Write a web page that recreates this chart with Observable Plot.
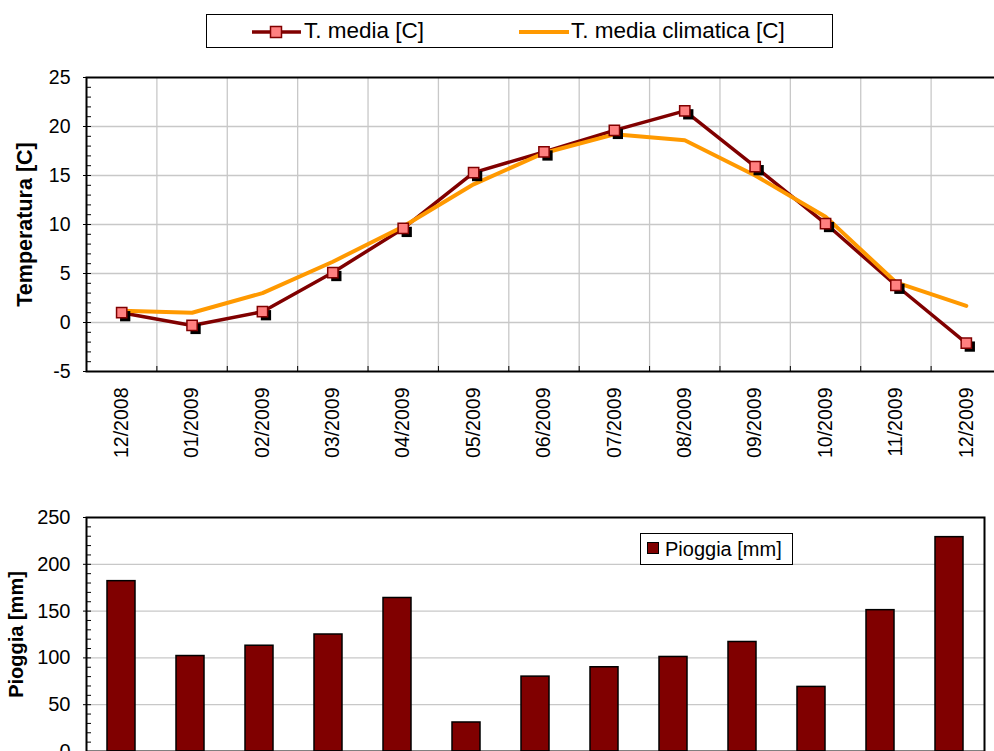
<!DOCTYPE html>
<html>
<head>
<meta charset="utf-8">
<script src="https://cdn.jsdelivr.net/npm/d3@7"></script>
<script src="https://cdn.jsdelivr.net/npm/@observablehq/plot@0.6"></script>
<style>
  html, body { margin: 0; padding: 0; background: #fff; }
  body { width: 994px; height: 751px; overflow: hidden; font-family: "Liberation Sans", Arial, sans-serif; }
  #root { position: relative; width: 994px; height: 751px; overflow: hidden; }
  #top, #bottom { position: absolute; left: 0; }
  #top { top: 0; width: 1010px; }
  #bottom { top: 460px; width: 994px; }
  #top svg, #bottom svg { max-width: none !important; }
  .legend { position: absolute; background: #fff; border: 1px solid #000; box-sizing: border-box; color: #000; z-index: 5; }
  .legend span { position: absolute; white-space: nowrap; line-height: 1; }
</style>
</head>
<body>
<div id="root">
  <div id="top"></div>
  <div id="bottom"></div>
  <div class="legend" id="legTop" style="left:206px; top:14px; width:627px; height:34px;">
    <svg width="625" height="32" style="position:absolute;left:0;top:0">
      <line x1="45" x2="94" y1="17" y2="17" stroke="#800000" stroke-width="3.5"/>
      <rect x="63.5" y="11.5" width="11" height="11" fill="#FF8080" stroke="#800000" stroke-width="1.5"/>
      <line x1="312" x2="362" y1="17" y2="17" stroke="#FF9900" stroke-width="4"/>
    </svg>
    <span style="left:97px; top:5px; font-size:22.5px;">T. media [C]</span>
    <span style="left:364px; top:5px; font-size:22.5px;">T. media climatica [C]</span>
  </div>
  <div class="legend" id="legBot" style="left:640px; top:533px; width:153px; height:32px;">
    <div style="position:absolute; left:6px; top:8px; width:12px; height:12px; background:#800000; border:1px solid #000; box-sizing:border-box;"></div>
    <span style="left:24px; top:5px; font-size:20px;">Pioggia [mm]</span>
  </div>
</div>
<script>
// ---- data ----
const months = ["12/2008","01/2009","02/2009","03/2009","04/2009","05/2009","06/2009","07/2009","08/2009","09/2009","10/2009","11/2009","12/2009"];
const tMedia = [1.0, -0.3, 1.1, 5.1, 9.6, 15.3, 17.4, 19.6, 21.6, 15.9, 10.1, 3.8, -2.1];
const tClima = [1.2, 1.0, 3.0, 6.2, 9.8, 14.1, 17.3, 19.2, 18.6, 15.0, 10.8, 4.1, 1.7];
const pioggia = [182, 102, 113, 125, 164, 31, 80, 90, 101, 117, 69, 151, 229];
const tempTicks = [-5, 0, 5, 10, 15, 20, 25];
const rainTicks = [0, 50, 100, 150, 200, 250];

const font = "'Liberation Sans', Arial, sans-serif";
const gridColor = "#c8c8c8";
const plain = d => String(d);

// ---- top chart: temperatures ----
const idx = months.map((m, i) => i);
const center = (d, i) => i + 0.5;
const topChart = Plot.plot({
  width: 1010, height: 461,
  marginLeft: 86, marginRight: 9, marginTop: 77, marginBottom: 90,
  style: {fontFamily: font, fontSize: "19.5px", color: "#000", background: "transparent", maxWidth: "none"},
  x: {type: "linear", domain: [0, months.length], axis: null},
  y: {domain: [-5, 25], axis: null},
  marks: [
    Plot.gridY(tempTicks.slice(1, -1), {stroke: gridColor, strokeOpacity: 1, strokeWidth: 1.3}),
    Plot.gridX(d3.range(1, months.length), {stroke: gridColor, strokeOpacity: 1, strokeWidth: 1.3}),
    Plot.axisY(d3.range(-5, 26), {tickSize: -5, tickFormat: () => "", label: null, strokeWidth: 1}),
    Plot.axisY(tempTicks, {tickSize: 3, tickPadding: 13, label: null, fontSize: 19.5, tickFormat: plain}),
    Plot.axisX(d3.range(1, months.length), {tickSize: -5, tickFormat: () => "", label: null}),
    Plot.axisX(idx.map(i => i + 0.5), {tickSize: 0, tickPadding: 16, tickRotate: -90, label: null, fontSize: 19.5, tickFormat: v => months[Math.floor(v)]}),
    Plot.frame({stroke: "#000", strokeWidth: 2}),
    Plot.lineY(tMedia, {x: center, y: d => d, stroke: "#800000", strokeWidth: 3.5}),
    Plot.lineY(tClima, {x: center, y: d => d, stroke: "#FF9900", strokeWidth: 4}),
    Plot.dot(tMedia, {x: center, y: d => d, symbol: "square", r: 5.8, fill: "#000", dx: 3.5, dy: 3.5}),
    Plot.dot(tMedia, {x: center, y: d => d, symbol: "square", r: 5.8, fill: "#FF8080", stroke: "#800000", strokeWidth: 1.5}),
    Plot.text(["Temperatura [C]"], {text: d => d, frameAnchor: "left", textAnchor: "middle", dx: -61, rotate: -90, fontWeight: "bold", fontSize: 21.5, fill: "#000"})
  ]
});
document.getElementById("top").appendChild(topChart);

// ---- bottom chart: rain ----
const rain = months.map((m, i) => ({month: m, value: pioggia[i]}));
const botChart = Plot.plot({
  width: 994, height: 381,
  marginLeft: 86, marginRight: 10, marginTop: 57, marginBottom: 90,
  style: {fontFamily: font, fontSize: "20px", color: "#000", background: "transparent", maxWidth: "none"},
  x: {type: "band", domain: months, paddingInner: 0.59, paddingOuter: 0.295, axis: null},
  y: {domain: [0, 250], axis: null},
  marks: [
    Plot.gridY(rainTicks.slice(1, -1), {stroke: gridColor, strokeOpacity: 1, strokeWidth: 1.3}),
    Plot.axisY(d3.range(0, 251, 10), {tickSize: -5, tickFormat: () => "", label: null}),
    Plot.axisY(rainTicks, {tickSize: 3, tickPadding: 13, label: null, fontSize: 20, tickFormat: plain}),
    Plot.barY(rain, {x: "month", y: "value", fill: "#800000", stroke: "#000", strokeWidth: 1.5}),
    Plot.frame({stroke: "#000", strokeWidth: 2}),
    Plot.text(["Pioggia [mm]"], {text: d => d, frameAnchor: "left", textAnchor: "middle", dx: -70, rotate: -90, fontWeight: "bold", fontSize: 20, fill: "#000"})
  ]
});
document.getElementById("bottom").appendChild(botChart);
</script>
</body>
</html>
